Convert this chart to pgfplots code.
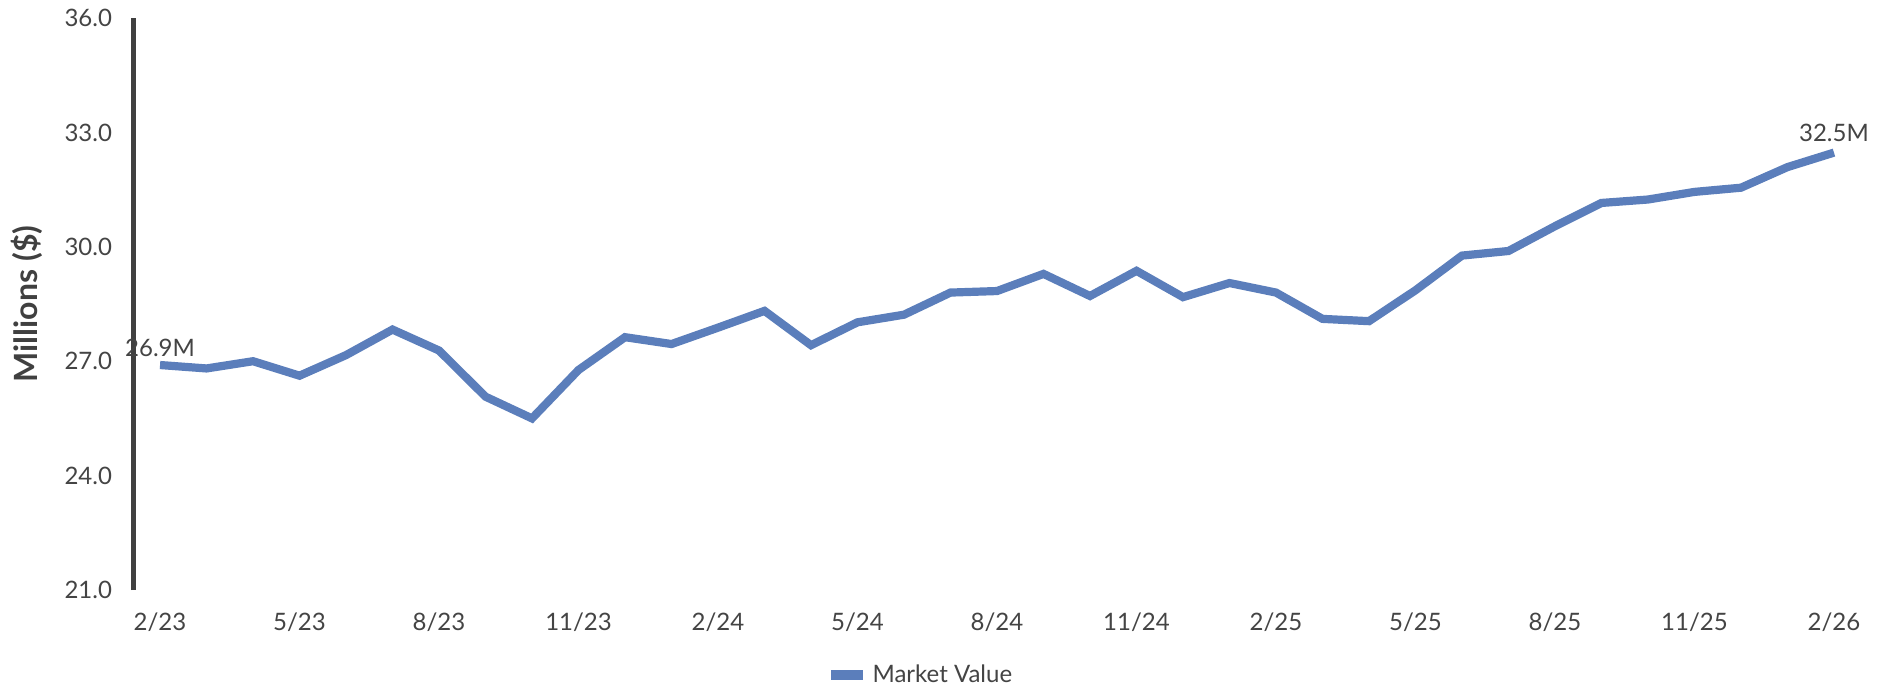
\documentclass[border=0pt]{standalone}
\usepackage{pgfplots}
\pgfplotsset{compat=1.18}
\usepackage{fontspec}
\setmainfont{Lato}
\definecolor{mvblue}{HTML}{5B7EBB}
\definecolor{axgray}{HTML}{404040}
\definecolor{txtgray}{HTML}{444444}
\begin{document}
\begin{tikzpicture}
\useasboundingbox (-67pt,-48.5pt) rectangle (877.5pt,295pt);
\begin{axis}[
  at={(0,0)}, anchor=south west,
  scale only axis,
  width=861.6pt, height=286pt,
  xmin=-0.56, xmax=36.5,
  ymin=21, ymax=36,
  axis y line*=left,
  axis x line*=bottom,
  x axis line style={draw=none},
  y axis line style={line width=2.5pt, color=axgray},
  major tick length=0pt,
  xtick={0,3,...,36},
  xticklabels={2/23,5/23,8/23,11/23,2/24,5/24,8/24,11/24,2/25,5/25,8/25,11/25,2/26},
  ytick={21,24,...,36},
  /pgf/number format/assume math mode=true,
  /pgf/number format/fixed,
  /pgf/number format/fixed zerofill,
  /pgf/number format/precision=1,
  tick label style={font=\fontsize{12}{14}\selectfont, text=txtgray},
  yticklabel style={xshift=-7.5pt},
  xticklabel style={yshift=-7.7pt},
  ylabel={Millions (\$)},
  ylabel style={at={(axis description cs:-0.0621,0.5)}, anchor=center, font=\fontsize{16}{18}\selectfont\bfseries, text=axgray},
  legend style={at={(0.4568,-0.1486)}, anchor=center, draw=none, font=\fontsize{12}{14}\selectfont, text=txtgray},
  legend image code/.code={\draw[#1, line width=5.2pt] (0pt,0pt) -- (16pt,0pt);},
  clip=false,
]
\addplot[color=mvblue, line width=4.1pt] table {
x y
0 26.90
1 26.81
2 27.00
3 26.62
4 27.16
5 27.83
6 27.28
7 26.07
8 25.50
9 26.77
10 27.63
11 27.45
12 27.88
13 28.32
14 27.42
15 28.02
16 28.22
17 28.80
18 28.84
19 29.29
20 28.71
21 29.37
22 28.68
23 29.05
24 28.80
25 28.11
26 28.05
27 28.86
28 29.77
29 29.89
30 30.54
31 31.15
32 31.24
33 31.44
34 31.55
35 32.09
36 32.47
};
\addlegendentry{Market Value}
\node[anchor=center, yshift=8.5pt, font=\fontsize{12}{14}\selectfont, text=txtgray] at (axis cs:0,26.90) {26.9M};
\node[anchor=center, yshift=10pt, font=\fontsize{12}{14}\selectfont, text=txtgray] at (axis cs:36,32.47) {32.5M};
\end{axis}
\end{tikzpicture}
\end{document}
